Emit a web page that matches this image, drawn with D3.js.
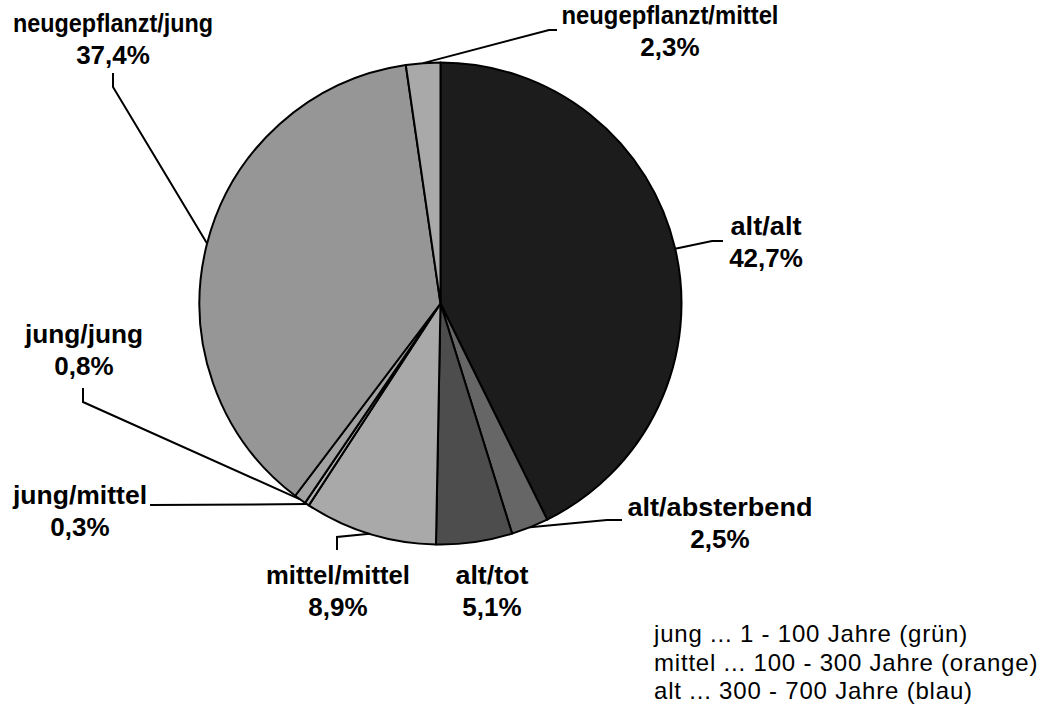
<!DOCTYPE html>
<html>
<head>
<meta charset="utf-8">
<script src="https://cdn.jsdelivr.net/npm/d3@7"></script>
<style>
  html, body { margin: 0; padding: 0; background: #fff; }
  svg { display: block; }
  .lbl { font-family: "Liberation Sans", Arial, sans-serif; font-weight: bold; font-size: 26px; fill: #000; }
  .note { font-family: "Liberation Sans", Arial, sans-serif; font-size: 24px; letter-spacing: 0.8px; fill: #000; }
</style>
</head>
<body>
<svg id="chart" width="1054" height="711"></svg>
<script>
// Slices, clockwise from 12 o'clock
const categories = ["alt/alt", "alt/absterbend", "alt/tot", "mittel/mittel",
                    "jung/mittel", "jung/jung", "neugepflanzt/jung", "neugepflanzt/mittel"];
const shares = [42.7, 2.5, 5.1, 8.9, 0.3, 0.8, 37.4, 2.3];
const fills = ["#1c1c1c", "#666666", "#4d4d4d", "#a9a9a9",
               "#b4b4b4", "#a2a2a2", "#969696", "#a9a9a9"];
const legendLines = [
  "jung ... 1 - 100 Jahre (grün)",
  "mittel ... 100 - 300 Jahre (orange)",
  "alt ... 300 - 700 Jahre (blau)"
];

// Label placement: text centre, first baseline, name width, leader elbow points (null = no leader)
const labelLayout = [
  { x: 766, y: 235, w: 71,  leader: [[712, 241], [723, 241]] },
  { x: 720, y: 516, w: 185, leader: [[607, 520], [622, 520]] },
  { x: 492, y: 584, w: 73,  leader: null },
  { x: 338, y: 584, w: 144, leader: [[337, 537], [337, 550]] },
  { x: 80,  y: 504, w: 134, leader: [[150, 505]] },
  { x: 84,  y: 343, w: 118, leader: [[83, 402], [83, 388]] },
  { x: 113, y: 32,  w: 200, leader: [[113, 87], [113, 73]] },
  { x: 670, y: 24,  w: 217, leader: [[549, 30], [557, 30]] }
];
const lineGap = 32;

const svg = d3.select("#chart");
const cx = 440.5, cy = 303.5, r = 241;

const pie = d3.pie().sort(null).value(d => d.value).startAngle(0).endAngle(2 * Math.PI);
const data = categories.map((c, i) => ({ name: c, value: shares[i], fill: fills[i] }));
const arcs = pie(data);
const arc = d3.arc().innerRadius(0).outerRadius(r);

const g = svg.append("g").attr("transform", `translate(${cx},${cy})`);
g.selectAll("path.slice")
  .data(arcs)
  .join("path")
  .attr("class", "slice")
  .attr("d", arc)
  .attr("fill", d => d.data.fill)
  .attr("stroke", "#000")
  .attr("stroke-width", 2)
  .attr("stroke-linejoin", "round");

const fmt = v => d3.format(".1f")(v).replace(".", ",") + "%";

// Leader lines start at the slice's mid-angle on the rim
arcs.forEach((a, i) => {
  const lay = labelLayout[i];
  if (lay.leader) {
    const mid = (a.startAngle + a.endAngle) / 2;
    const p0 = [cx + r * Math.sin(mid), cy - r * Math.cos(mid)];
    svg.append("path")
      .attr("d", d3.line()([p0, ...lay.leader]))
      .attr("fill", "none")
      .attr("stroke", "#000")
      .attr("stroke-width", 2);
  }
  const t = svg.append("text")
    .attr("class", "lbl")
    .attr("text-anchor", "middle");
  t.append("tspan")
    .attr("x", lay.x).attr("y", lay.y)
    .attr("textLength", lay.w)
    .attr("lengthAdjust", "spacingAndGlyphs")
    .text(a.data.name);
  t.append("tspan").attr("x", lay.x).attr("y", lay.y + lineGap).text(fmt(a.data.value));
});

// Age class note
svg.append("g")
  .selectAll("text")
  .data(legendLines)
  .join("text")
  .attr("class", "note")
  .attr("x", 654)
  .attr("y", (d, i) => 642 + i * 28.5)
  .text(d => d);
</script>
</body>
</html>
